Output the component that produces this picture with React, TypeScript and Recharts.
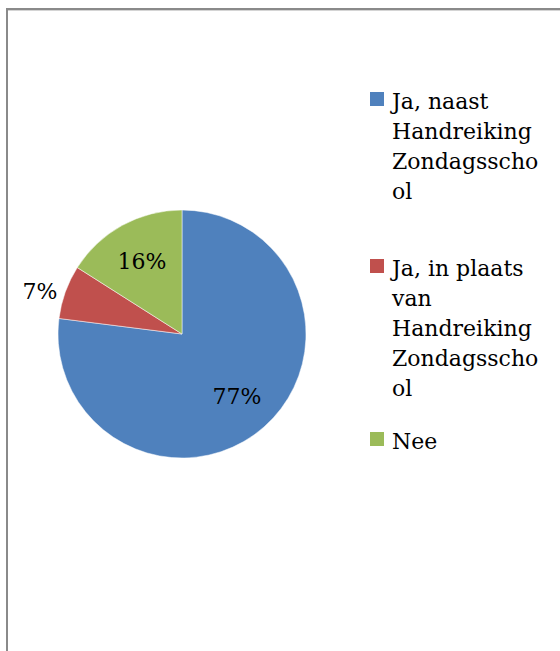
import { PieChart, Pie, Cell, Legend } from "recharts";

const categories = [
  "Ja, naast Handreiking Zondagsschool",
  "Ja, in plaats van Handreiking Zondagsschool",
  "Nee",
];
const values = [77, 7, 16];
const colors = ["#4F81BD", "#C0504D", "#9BBB59"];
// legend text wraps like in the original
const legendLines = [
  ["Ja, naast", "Handreiking", "Zondagsscho", "ol"],
  ["Ja, in plaats", "van", "Handreiking", "Zondagsscho", "ol"],
  ["Nee"],
];

const data = categories.map((name, i) => ({ name, value: values[i] }));

const FONT = "'DejaVu Serif', serif";
const RAD = Math.PI / 180;

const renderLabel = (props: any) => {
  const { cx, cy, midAngle, outerRadius, percent } = props;
  const cos = Math.cos(-midAngle * RAD);
  const sin = Math.sin(-midAngle * RAD);
  // small slices get the label outside, right next to the edge
  if (percent < 0.1) {
    const r = outerRadius * 1.05;
    return (
      <text
        x={cx + r * cos - 2}
        y={cy + r * sin + 2}
        fill="#000"
        textAnchor={cos < 0 ? "end" : "start"}
        dominantBaseline="central"
        fontFamily={FONT}
        fontSize={22}
      >
        {Math.round(percent * 100)}%
      </text>
    );
  }
  const r = outerRadius * 0.67;
  return (
    <text
      x={cx + r * cos}
      y={cy + r * sin}
      fill="#000"
      textAnchor="middle"
      dominantBaseline="central"
      fontFamily={FONT}
      fontSize={22}
    >
      {Math.round(percent * 100)}%
    </text>
  );
};

const itemTops = [0, 167, 340];

const LegendContent = () => (
  <div style={{ position: "relative", width: 180, height: 380, fontFamily: FONT }}>
    {legendLines.map((lines, i) => (
      <div key={i} style={{ position: "absolute", top: itemTops[i], left: 0 }}>
        <span
          style={{
            position: "absolute",
            left: 0,
            top: 5,
            width: 14,
            height: 14,
            background: colors[i],
          }}
        />
        <div style={{ marginLeft: 22, fontSize: 22, lineHeight: "30px", color: "#000", whiteSpace: "nowrap" }}>
          {lines.map((l, j) => (
            <div key={j}>{l}</div>
          ))}
        </div>
      </div>
    ))}
  </div>
);

export default function App() {
  return (
    <div
      style={{
        position: "absolute",
        left: 6,
        top: 8,
        width: 554,
        height: 643,
        overflow: "hidden",
        background: "#fff",
      }}
    >
      {/* frame: only top and left edges fall inside the picture */}
      <div style={{ position: "absolute", left: 0, top: 0, width: 554, height: 2, background: "#8a8a8a" }} />
      <div style={{ position: "absolute", left: 2, top: 2, width: 552, height: 1, background: "#d4d4d4" }} />
      <div style={{ position: "absolute", left: 0, top: 0, width: 2, height: 643, background: "#8a8a8a" }} />
      <div style={{ position: "absolute", left: 2, top: 2 }}>
        <PieChart width={550} height={641} margin={{ top: 0, right: 0, bottom: 0, left: 0 }}>
          <Pie
            data={data}
            dataKey="value"
            nameKey="name"
            cx={174}
            cy={324}
            outerRadius={124}
            startAngle={90}
            endAngle={-270}
            stroke="#ffffff"
            strokeWidth={0.5}
            label={renderLabel}
            labelLine={false}
            isAnimationActive={false}
          >
            {data.map((_, i) => (
              <Cell key={i} fill={colors[i]} />
            ))}
          </Pie>
          <Legend
            layout="vertical"
            verticalAlign="middle"
            align="right"
            content={<LegendContent />}
            wrapperStyle={{ left: 362, top: 77, width: 180 }}
          />
        </PieChart>
      </div>
    </div>
  );
}
